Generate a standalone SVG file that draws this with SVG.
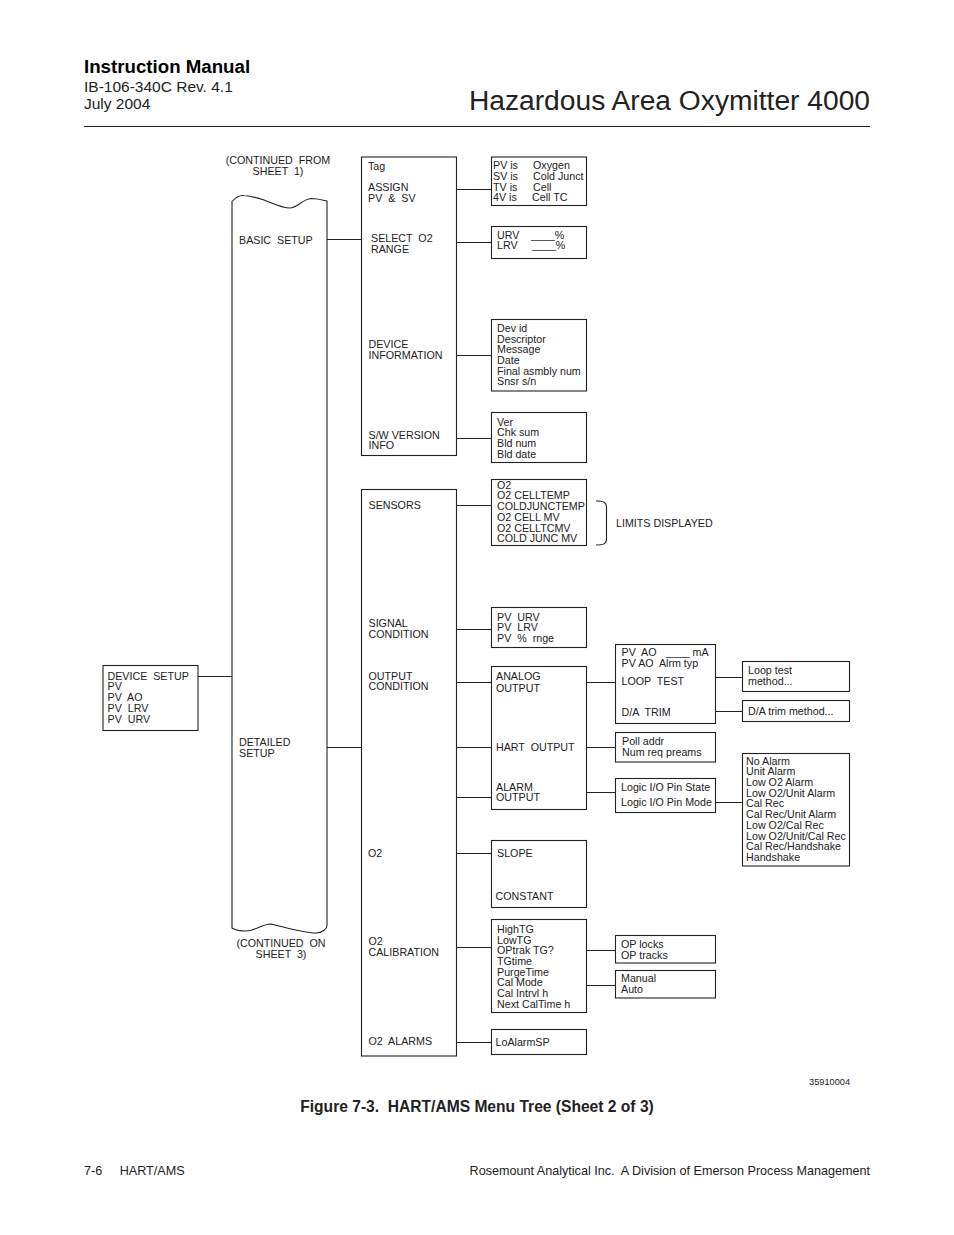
<svg xmlns="http://www.w3.org/2000/svg" width="954" height="1235" viewBox="0 0 954 1235">
<style>
text{font-family:"Liberation Sans",Arial,sans-serif;fill:#222;font-size:10.7px;white-space:pre}
.b{fill:#fff;stroke:#222;stroke-width:1.1}
.c{fill:none;stroke:#222;stroke-width:1.1}
.m{text-anchor:middle}
</style>
<rect width="954" height="1235" fill="#fff"/>
<g id="header">
<text x="84" y="73" style="font-size:18.7px;font-weight:bold;fill:#000">Instruction Manual</text>
<text x="84" y="92" style="font-size:15.5px">IB-106-340C Rev. 4.1</text>
<text x="84" y="109" style="font-size:15.5px">July 2004</text>
<text x="870" y="110" text-anchor="end" style="font-size:28.2px">Hazardous Area Oxymitter 4000</text>
<line x1="84" y1="126.500" x2="870" y2="126.500" stroke="#222" stroke-width="1"/>
</g>
<g id="connectors">
<path class="c" d="M198 676.500H232M327 239.500H361M327 747.500H361M457 189.500H491M457 242.500H491M457 355.500H491M457 438.500H491M457 505.500H491M457 629.500H491M457 682.500H491M586 682.500H615M457 747.500H491M586 747.500H615M457 797.500H491M586 792.500H615M457 853.500H491M457 947.500H491M586 950.500H615M586 985.500H615M457 1042.500H491M716 677.500H742M716 711.500H742M716 802.500H742"/>
<path class="c" d="M586 950V985"/>
</g>
<g id="device-setup"><rect class="b" x="103" y="665.500" width="95" height="65"/>
<text x="107.500" y="680">DEVICE  SETUP</text><text x="107.500" y="690">PV</text><text x="107.500" y="701">PV  AO</text><text x="107.500" y="712">PV  LRV</text><text x="107.500" y="723">PV  URV</text></g>
<g id="setup-scroll">
<path class="b" d="M232 201.500C235 198 239 195 244 195.500C251 196 258 198 264 200C272 203 282 208 290 208C297 208 303 199 311 198.500C316 198.500 323 200 327 201V925.500C327 929 322 933 316 933C305 933 283 927 271 924C262 924 255 931 246 931C241 931 235 930 232 928Z"/>
<text x="239" y="244">BASIC  SETUP</text><text x="239" y="746">DETAILED</text><text x="239" y="757">SETUP</text>
</g>
<g id="continued"><text class="m" x="278" y="164">(CONTINUED  FROM</text><text class="m" x="278" y="175">SHEET  1)</text><text class="m" x="281" y="947">(CONTINUED  ON</text><text class="m" x="281" y="958">SHEET  3)</text></g>
<g id="basic-menu"><rect class="b" x="361.500" y="157" width="95" height="298.500"/>
<text x="368" y="170">Tag</text><text x="368" y="191">ASSIGN</text><text x="368" y="202">PV  &amp;  SV</text><text x="371" y="242">SELECT  O2</text><text x="371" y="253">RANGE</text><text x="368.500" y="348">DEVICE</text><text x="368.500" y="359">INFORMATION</text><text x="368.500" y="439">S/W VERSION</text><text x="368.500" y="449">INFO</text></g>
<g id="detailed-menu"><rect class="b" x="361.500" y="489.500" width="95" height="566.500"/>
<text x="368.500" y="509">SENSORS</text><text x="368.500" y="627">SIGNAL</text><text x="368.500" y="638">CONDITION</text><text x="368.500" y="680">OUTPUT</text><text x="368.500" y="690">CONDITION</text><text x="368" y="857">O2</text><text x="368.500" y="945">O2</text><text x="368.500" y="956">CALIBRATION</text><text x="368.500" y="1045">O2  ALARMS</text></g>
<g id="assign"><rect class="b" x="491.500" y="157" width="95" height="48.500"/>
<text x="493" y="169">PV is</text><text x="533" y="169">Oxygen</text><text x="493" y="180">SV is</text><text x="533" y="180">Cold Junct</text><text x="493" y="191">TV is</text><text x="533" y="191">Cell</text><text x="493" y="201">4V is</text><text x="532" y="201">Cell TC</text></g>
<g id="range"><rect class="b" x="491.500" y="226.500" width="95" height="32"/>
<text x="497" y="239">URV</text><text x="531" y="239">____%</text><text x="497" y="249">LRV</text><text x="532" y="249">____%</text></g>
<g id="device-info"><rect class="b" x="491.500" y="319.500" width="95" height="71.500"/>
<text x="497" y="332">Dev id</text><text x="497" y="343">Descriptor</text><text x="497" y="353">Message</text><text x="497" y="364">Date</text><text x="497" y="375">Final asmbly num</text><text x="497" y="385">Snsr s/n</text></g>
<g id="version"><rect class="b" x="491.500" y="412.500" width="95" height="50"/>
<text x="497" y="426">Ver</text><text x="497" y="436">Chk sum</text><text x="497" y="447">Bld num</text><text x="497" y="458">Bld date</text></g>
<g id="sensors"><rect class="b" x="491.500" y="479.500" width="95" height="66"/>
<text x="497" y="489">O2</text><text x="497" y="499">O2 CELLTEMP</text><text x="497" y="510">COLDJUNCTEMP</text><text x="497" y="521">O2 CELL MV</text><text x="497" y="532">O2 CELLTCMV</text><text x="497" y="542">COLD JUNC MV</text></g>
<g id="limits"><path class="c" d="M596 501C603 501 606.500 502 606.500 507V539C606.500 544 603 545 596 545"/><text x="616" y="527">LIMITS DISPLAYED</text></g>
<g id="signal"><rect class="b" x="491.500" y="607.500" width="95" height="40"/>
<text x="497" y="621">PV  URV</text><text x="497" y="631">PV  LRV</text><text x="497" y="642">PV  %  rnge</text></g>
<g id="output"><rect class="b" x="491.500" y="666.500" width="95" height="143"/>
<text x="496" y="680">ANALOG</text><text x="496" y="692">OUTPUT</text><text x="496" y="751">HART  OUTPUT</text><text x="496" y="791">ALARM</text><text x="496" y="801">OUTPUT</text></g>
<g id="analog"><rect class="b" x="615.500" y="644.500" width="100" height="79"/>
<text x="621.500" y="656">PV  AO</text><text x="666" y="656">____</text><text x="692.500" y="656">mA</text><text x="621.500" y="667">PV AO  Alrm typ</text><text x="621.500" y="685">LOOP  TEST</text><text x="621.500" y="716">D/A  TRIM</text></g>
<g id="loop-test"><rect class="b" x="742.500" y="661.500" width="107" height="30"/><text x="748" y="674">Loop test</text><text x="748" y="685">method...</text></g>
<g id="trim"><rect class="b" x="742.500" y="700.500" width="107" height="21"/><text x="748" y="715">D/A trim method...</text></g>
<g id="hart"><rect class="b" x="615.500" y="732.500" width="100" height="29.500"/><text x="622" y="745">Poll addr</text><text x="622" y="756">Num req preams</text></g>
<g id="alarm"><rect class="b" x="615.500" y="778.500" width="100" height="34"/><text x="621" y="791">Logic I/O Pin State</text><text x="621" y="806">Logic I/O Pin Mode</text></g>
<g id="alarm-list"><rect class="b" x="742.500" y="753.500" width="107" height="112.500"/>
<text x="746" y="765">No Alarm</text><text x="746" y="775">Unit Alarm</text><text x="746" y="786">Low O2 Alarm</text><text x="746" y="797">Low O2/Unit Alarm</text><text x="746" y="807">Cal Rec</text><text x="746" y="818">Cal Rec/Unit Alarm</text><text x="746" y="829">Low O2/Cal Rec</text><text x="746" y="840">Low O2/Unit/Cal Rec</text><text x="746" y="850">Cal Rec/Handshake</text><text x="746" y="861">Handshake</text></g>
<g id="slope"><rect class="b" x="491.500" y="840.500" width="95" height="67"/><text x="497" y="857">SLOPE</text><text x="495.500" y="900">CONSTANT</text></g>
<g id="calibration"><rect class="b" x="491.500" y="919.500" width="95" height="93"/>
<text x="497" y="933">HighTG</text><text x="497" y="944">LowTG</text><text x="497" y="954">OPtrak TG?</text><text x="497" y="965">TGtime</text><text x="497" y="976">PurgeTime</text><text x="497" y="986">Cal Mode</text><text x="497" y="997">Cal Intrvl h</text><text x="497" y="1008">Next CalTime h</text></g>
<g id="op-locks"><rect class="b" x="615.500" y="935.500" width="100" height="27.500"/><text x="621" y="948">OP locks</text><text x="621" y="959">OP tracks</text></g>
<g id="manual"><rect class="b" x="615.500" y="970.500" width="100" height="27.500"/><text x="621" y="982">Manual</text><text x="621" y="993">Auto</text></g>
<g id="lo-alarm"><rect class="b" x="491.500" y="1029.500" width="95" height="25"/><text x="495.500" y="1046">LoAlarmSP</text></g>
<g id="footer">
<text x="850" y="1085" text-anchor="end" style="font-size:9.2px">35910004</text>
<text x="477" y="1112" text-anchor="middle" style="font-size:15.6px;font-weight:bold">Figure 7-3.  HART/AMS Menu Tree (Sheet 2 of 3)</text>
<text x="84" y="1175" style="font-size:12.6px">7-6     HART/AMS</text>
<text x="870" y="1175" text-anchor="end" style="font-size:12.6px">Rosemount Analytical Inc.  A Division of Emerson Process Management</text>
</g>
</svg>
